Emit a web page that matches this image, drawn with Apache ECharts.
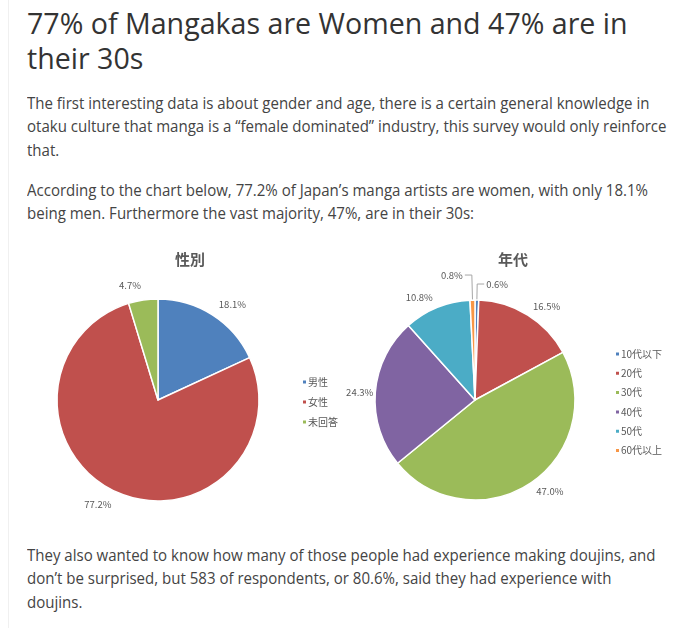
<!DOCTYPE html>
<html>
<head>
<meta charset="utf-8">
<title>性別・年代</title>
<script src="https://cdn.jsdelivr.net/npm/echarts@6/dist/echarts.min.js"></script>
<style>
  html, body { margin: 0; padding: 0; background: #fff; }
  body { width: 680px; height: 628px; position: relative; overflow: hidden; }
  #rule { position: absolute; left: 8px; top: 0; width: 1px; height: 628px; background: #f0f0f0; }
  h1 {
    position: absolute; left: 27px; top: 6px; margin: 0; white-space: nowrap;
    font-family: "Open Sans", sans-serif; font-weight: 400;
    font-size: 28.6px; line-height: 34.5px; color: #333;
  }
  .p {
    position: absolute; left: 27px; margin: 0; white-space: nowrap;
    font-family: "Open Sans", sans-serif;
    font-size: 16px; line-height: 23.3px; color: #444;
    transform-origin: 0 0;
  }
  #main { position: absolute; left: 0; top: 240px; width: 680px; height: 285px; }
</style>
</head>
<body>
<div id="rule"></div>
<h1>77% of Mangakas are Women and 47% are in<br>their 30s</h1>
<div class="p" style="top:92px">The first interesting data is about gender and age, there is a certain general knowledge in<br>otaku culture that manga is a “female dominated” industry, this survey would only reinforce<br>that.</div>
<div class="p" id="p2" style="top:179px">According to the chart below, 77.2% of Japan’s manga artists are women, with only 18.1%<br>being men. Furthermore the vast majority, 47%, are in their 30s:</div>
<div id="main"></div>
<div class="p" style="top:544px">They also wanted to know how many of those people had experience making doujins, and<br>don’t be surprised, but 583 of respondents, or 80.6%, said they had experience with<br>doujins.</div>

<script type="text/javascript">
    // the article text is set in a narrow face: squeeze it to the width of the 2nd paragraph
    var squeeze = 621 / document.getElementById('p2').getBoundingClientRect().width;
    var paras = document.querySelectorAll('.p');
    for (var k = 0; k < paras.length; k++) {
        paras[k].style.transform = 'scaleX(' + squeeze + ')';
    }

    // 性別
    var genderNames = ['男性', '女性', '未回答'];
    var genderValues = [18.1, 77.2, 4.7];
    // 年代
    var ageNames = ['10代以下', '20代', '30代', '40代', '50代', '60代以上'];
    var ageValues = [0.6, 16.5, 47.0, 24.3, 10.8, 0.8];

    var palette = ['#4F81BD', '#C0504D', '#9BBB59', '#8064A2', '#4BACC6', '#F79646'];
    var grey = '#595959';
    var cjk = '"Noto Sans CJK JP", "Noto Sans", sans-serif';

    // label line lengths per slice (Excel-like label placement)
    var genderLen = [12, 13, 15];
    var ageLen = [16, 10, 10, 2, 11, 25];
    var ageLen2 = [7, 0, 0, 0, 0, 7];

    var buildData = function (names, values, len, len2) {
        var list = [];
        for (var i = 0; i < names.length; i++) {
            var withLine = !!(len2 && len2[i] > 0);
            list.push({
                name: names[i],
                value: values[i],
                itemStyle: { color: palette[i] },
                label: { distanceToLabelLine: withLine ? 2 : 0 },
                labelLine: {
                    show: withLine,
                    length: len[i],
                    length2: len2 ? len2[i] : 0
                }
            });
        }
        return list;
    };

    var pieBase = {
        type: 'pie',
        startAngle: 90,
        clockwise: true,
        avoidLabelOverlap: false,
        animation: false,
        itemStyle: { borderColor: '#fff', borderWidth: 1.5 },
        label: {
            position: 'outside',
            color: grey,
            fontSize: 9.5,
            fontFamily: cjk,
            formatter: function (p) { return p.value.toFixed(1) + '%'; }
        },
        labelLine: { lineStyle: { color: '#A6A6A6', width: 1 } },
        emphasis: { disabled: true }
    };

    var legendBase = {
        orient: 'vertical',
        icon: 'rect',
        itemWidth: 5,
        itemHeight: 5,
        textStyle: { color: grey, fontSize: 10, fontFamily: cjk, lineHeight: 12, padding: [0, 0, 0, -4] },
        selectedMode: false
    };

    var myChart = echarts.init(document.getElementById('main'));
    var option = {
        animation: false,
        title: [
            { text: '性別', left: 185, top: 7, textAlign: 'center',
              textStyle: { color: grey, fontSize: 15, fontWeight: 'bold', fontFamily: cjk } },
            { text: '年代', left: 508, top: 7, textAlign: 'center',
              textStyle: { color: grey, fontSize: 15, fontWeight: 'bold', fontFamily: cjk } }
        ],
        legend: [
            Object.assign({}, legendBase, { data: genderNames, left: 296, top: 131, itemGap: 8 }),
            Object.assign({}, legendBase, { data: ageNames, left: 609, top: 103, itemGap: 7.3 })
        ],
        series: [
            Object.assign({}, pieBase, {
                name: '性別',
                center: [158, 160],
                radius: 101,
                data: buildData(genderNames, genderValues, genderLen)
            }),
            Object.assign({}, pieBase, {
                name: '年代',
                center: [475, 160],
                radius: 100,
                data: buildData(ageNames, ageValues, ageLen, ageLen2)
            })
        ]
    };
    myChart.setOption(option);
</script>
</body>
</html>
